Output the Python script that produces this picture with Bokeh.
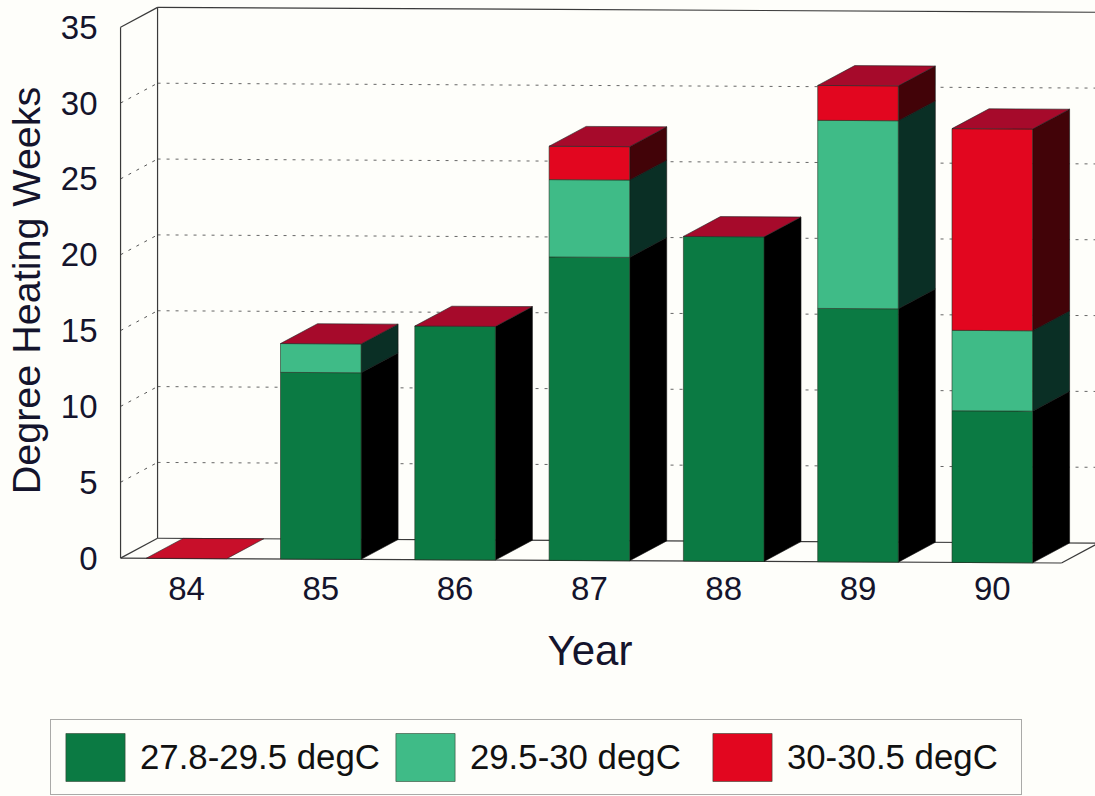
from bokeh.plotting import figure
from bokeh.embed import file_html
from bokeh.resources import INLINE
from bokeh.layouts import column
from bokeh.models import FixedTicker, Legend, LegendItem, Title

# ---- data
years = [84, 85, 86, 87, 88, 89, 90]
band_low = [0.0, 12.3, 15.4, 20.0, 21.4, 16.7, 10.0]     # 27.8-29.5 degC
band_mid = [0.0, 1.9, 0.0, 5.1, 0.0, 12.4, 5.3]          # 29.5-30 degC
band_high = [0.0, 0.0, 0.0, 2.2, 0.0, 2.3, 13.3]         # 30-30.5 degC
labels = ["27.8-29.5 degC", "29.5-30 degC", "30-30.5 degC"]
y_ticks = [0, 5, 10, 15, 20, 25, 30, 35]

# ---- styles / projection constants
PAPER = "#fefefa"
INK = "#14142c"
FRONT = ["#0b7a43", "#3fbb87", "#e2061f"]
SIDE = ["#000000", "#0a2f25", "#420308"]
TOP = "#a60a2b"
TOP_FLAT = "#c80f2a"
BAR_W = 0.6
DX = 0.2755      # depth offset in years
DY = 1.32        # depth offset in value units
TILT = 0.046     # scan rotation, value units per year
WALL_L = 83.509
WALL_R = 90.515


def ty(x, v):
    return v - TILT * (x - 83.5)


p = figure(width=1095, height=719,
           x_range=(84 - 68 / 134.3, 84 + 909 / 134.3),
           y_range=(-1.477, 36.76),
           output_backend="svg", toolbar_location=None,
           min_border_left=118, min_border_right=0, min_border_top=0, min_border_bottom=139,
           background_fill_color=PAPER, border_fill_color=PAPER,
           outline_line_color=None)
p.grid.visible = False
p.frame_align = False


def seg(xs, vs, **kw):
    p.line(xs, [ty(x, v) for x, v in zip(xs, vs)], **kw)


# walls and dotted grid
for t in y_ticks[1:-1]:
    seg([WALL_L, WALL_L + DX], [t, t + DY], line_color="#555555", line_width=1, line_dash="3 6")
    seg([WALL_L + DX, 90.8], [t + DY, t + DY], line_color="#666666", line_width=1, line_dash="3 6")
wall = dict(line_color="#3a3a3a", line_width=1.2)
seg([WALL_L, WALL_L], [0, 35], **wall)
seg([WALL_L + DX, WALL_L + DX], [DY, 35 + DY], **wall)
seg([WALL_L, WALL_L + DX], [35, 35 + DY], **wall)
seg([WALL_L + DX, 90.8], [35 + DY, 35 + DY], **wall)
seg([WALL_L, WALL_R], [0, 0], **wall)
seg([WALL_L, WALL_L + DX], [0, DY], **wall)
seg([WALL_R, WALL_R + DX], [0, DY], **wall)
seg([WALL_L + DX, 90.8], [DY, DY], **wall)

# bars
bands = [band_low, band_mid, band_high]
for k, band in enumerate(bands):
    fx, fy, sx, sy = [], [], [], []
    for i, yr in enumerate(years):
        if band[i] <= 0:
            continue
        base = sum(b[i] for b in bands[:k])
        top = base + band[i]
        l, r = yr - BAR_W / 2, yr + BAR_W / 2
        fx.append([l, r, r, l])
        fy.append([ty(l, base), ty(r, base), ty(r, top), ty(l, top)])
        sx.append([r, r + DX, r + DX, r])
        sy.append([ty(r, base), ty(r + DX, base + DY), ty(r + DX, top + DY), ty(r, top)])
    p.patches(sx, sy, fill_color=SIDE[k], line_color="#111111", line_width=0.6)
    p.patches(fx, fy, fill_color=FRONT[k], line_color="#223322", line_width=0.6)

cx, cy, cc = [], [], []
for i, yr in enumerate(years):
    top = band_low[i] + band_mid[i] + band_high[i]
    l, r = yr - BAR_W / 2, yr + BAR_W / 2
    cx.append([l, r, r + DX, l + DX])
    cy.append([ty(l, top), ty(r, top), ty(r + DX, top + DY), ty(l + DX, top + DY)])
    cc.append(TOP if top > 0 else TOP_FLAT)
p.patches(cx, cy, fill_color=cc, line_color="#222222", line_width=0.6)

# axes
ax = p.xaxis[0]
ax.ticker = FixedTicker(ticks=years)
ax.axis_line_color = None
ax.major_tick_line_color = None
ax.minor_tick_line_color = None
ax.major_tick_out = 0
ax.major_label_text_font = "Liberation Sans"
ax.major_label_text_font_size = "33px"
ax.major_label_text_color = INK
ax.major_label_standoff = -4

ay = p.yaxis[0]
ay.ticker = FixedTicker(ticks=y_ticks)
ay.axis_line_color = None
ay.major_tick_line_color = None
ay.minor_tick_line_color = None
ay.major_tick_out = 0
ay.major_label_text_font = "Liberation Sans"
ay.major_label_text_font_size = "33px"
ay.major_label_text_color = INK
ay.major_label_standoff = 21
ay.axis_label = "Degree Heating Weeks"
ay.axis_label_text_font = "Liberation Sans"
ay.axis_label_text_font_style = "normal"
ay.axis_label_text_font_size = "39.5px"
ay.axis_label_text_color = INK
ay.axis_label_standoff = 10

year_title = Title(text="Year", align="left", offset=429, standoff=44,
                   text_font="Liberation Sans", text_font_style="normal",
                   text_font_size="42px", text_color=INK)
p.add_layout(year_title, "below")

# legend strip: a real Legend in its own small figure
q = figure(width=1095, height=77, x_range=(0, 1), y_range=(0, 1),
           output_backend="svg", toolbar_location=None,
           min_border_left=0, min_border_right=0, min_border_top=0, min_border_bottom=0,
           background_fill_color=PAPER, border_fill_color=PAPER,
           outline_line_color=None)
q.axis.visible = False
q.grid.visible = False
q.frame_align = False
swatches = [q.patches(xs=[[]], ys=[[]], fill_color=FRONT[k], line_color="#334433", line_width=0.6)
            for k in range(3)]
legend = Legend(
    items=[LegendItem(label=labels[k], renderers=[swatches[k]]) for k in range(3)],
    orientation="horizontal",
    location=(50, 1),
    glyph_width=74, glyph_height=60, label_height=60, label_width=227,
    label_standoff=8, spacing=8, padding=7, margin=0,
    label_text_font="Liberation Sans", label_text_font_size="34.8px", label_text_color="#111111",
    border_line_color="#555555", border_line_width=1,
    background_fill_color=PAPER, background_fill_alpha=1.0,
)
q.add_layout(legend, "center")

page = column(p, q, spacing=0)
html = file_html(page, INLINE)
html = html.replace("</head>", "<style>html,body{background:#fefefa}</style></head>", 1)
open("out.html", "w").write(html)
